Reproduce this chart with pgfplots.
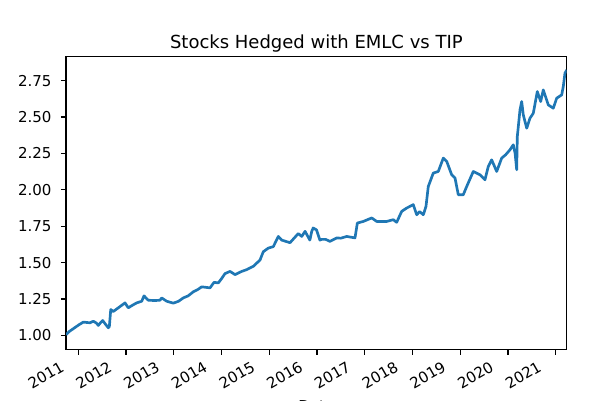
\documentclass[border=0pt]{standalone}
\usepackage{fontspec}
\setmainfont{DejaVu Sans}
\usepackage{pgfplots}
\pgfplotsset{compat=1.18}
\definecolor{mplblue}{RGB}{31,119,180}
\begin{document}
\begin{tikzpicture}
\useasboundingbox (0,0) rectangle (444pt,300pt);
\begin{axis}[
  at={(49.5pt,38.0pt)}, anchor=south west,
  scale only axis, width=375.5pt, height=219.6pt,
  xmin=2010.742, xmax=2021.230, ymin=0.905, ymax=2.915,
  xtick={2011,2012,2013,2014,2015,2016,2017,2018,2019,2020,2021},
  xticklabels={2011,2012,2013,2014,2015,2016,2017,2018,2019,2020,2021},
  ytick={1,1.25,1.5,1.75,2,2.25,2.5,2.75},
  yticklabels={1.00,1.25,1.50,1.75,2.00,2.25,2.50,2.75},
  tick align=outside, major tick length=3.9pt,
  tick style={black, line width=0.9pt},
  axis line style={black, line width=0.9pt},
  xtick pos=bottom, ytick pos=left,
  ticklabel style={font=\fontsize{11.25}{13}\selectfont},
  xticklabel style={xshift=-14pt, rotate=30, anchor=north east, inner sep=0pt},
  yticklabel style={anchor=east, inner sep=0pt, xshift=-6.75pt},
  xticklabel shift=4.3pt,
  every axis title/.style={at={(0.5,1)}, anchor=base, yshift=6.15pt, inner sep=0pt, font=\fontsize{13.5}{16}\selectfont},
  title={Stocks Hedged with EMLC vs TIP},
  every axis x label/.style={at={(0.5,0)}, anchor=north, inner sep=0pt, yshift=-38.4pt, font=\fontsize{11.25}{13}\selectfont},
  xlabel={Date},
  clip=true,
]
\addplot[mplblue, line width=2pt, line join=round] coordinates {
(2010.742,1.005) (2010.80,1.025) (2010.931,1.055) (2011.02,1.075) (2011.105,1.092)
(2011.245,1.087) (2011.314,1.098) (2011.38,1.085) (2011.419,1.069) (2011.47,1.09)
(2011.511,1.103) (2011.574,1.075) (2011.628,1.053) (2011.65,1.06) (2011.679,1.178)
(2011.733,1.165) (2011.838,1.19) (2011.90,1.205) (2011.978,1.224) (2012.047,1.19)
(2012.12,1.205) (2012.223,1.224) (2012.328,1.235) (2012.376,1.272) (2012.466,1.242)
(2012.60,1.240) (2012.711,1.242) (2012.747,1.258) (2012.852,1.235) (2012.990,1.222)
(2013.10,1.235) (2013.199,1.258) (2013.30,1.272) (2013.409,1.300) (2013.50,1.315)
(2013.585,1.334) (2013.759,1.327) (2013.843,1.365) (2013.933,1.361) (2014.00,1.39)
(2014.073,1.425) (2014.178,1.440) (2014.283,1.418) (2014.423,1.440) (2014.527,1.452)
(2014.666,1.475) (2014.806,1.518) (2014.875,1.575) (2014.98,1.600) (2015.085,1.610)
(2015.19,1.680) (2015.26,1.655) (2015.435,1.637) (2015.608,1.700) (2015.68,1.680)
(2015.75,1.715) (2015.85,1.655) (2015.89,1.715) (2015.92,1.738) (2015.99,1.725)
(2016.06,1.655) (2016.098,1.660) (2016.18,1.66) (2016.272,1.646) (2016.413,1.670)
(2016.50,1.668) (2016.622,1.680) (2016.796,1.670) (2016.845,1.772) (2016.970,1.783)
(2017.146,1.807) (2017.251,1.783) (2017.460,1.783) (2017.598,1.795) (2017.669,1.777)
(2017.774,1.852) (2017.879,1.875) (2018.017,1.898) (2018.088,1.829) (2018.15,1.85)
(2018.227,1.829) (2018.283,1.886) (2018.331,2.023) (2018.436,2.115) (2018.541,2.126)
(2018.646,2.218) (2018.717,2.195) (2018.822,2.103) (2018.891,2.081) (2018.960,1.966)
(2019.064,1.966) (2019.136,2.023) (2019.274,2.126) (2019.414,2.103) (2019.519,2.069)
(2019.588,2.160) (2019.659,2.206) (2019.764,2.126) (2019.869,2.218) (2019.95,2.24)
(2020.043,2.275) (2020.112,2.309) (2020.15,2.25) (2020.183,2.138) (2020.196,2.366)
(2020.252,2.549) (2020.288,2.606) (2020.321,2.515) (2020.393,2.423) (2020.462,2.492)
(2020.531,2.526) (2020.615,2.675) (2020.686,2.606) (2020.740,2.686) (2020.845,2.583)
(2020.950,2.560) (2021.021,2.629) (2021.126,2.652) (2021.159,2.709) (2021.194,2.800)
(2021.230,2.823)
};
\end{axis}
\end{tikzpicture}
\end{document}
